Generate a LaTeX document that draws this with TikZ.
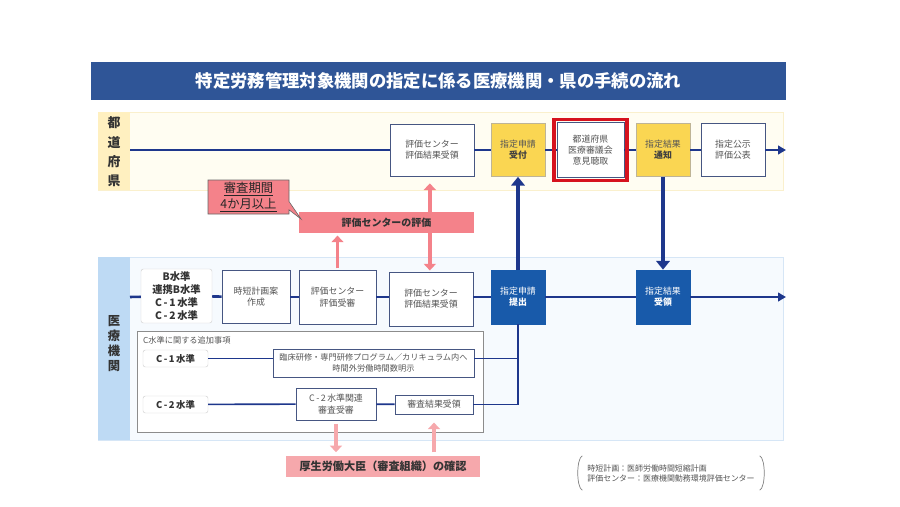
\documentclass[tikz,border=0pt]{standalone}
\usepackage{fontspec}
\setmainfont{Noto Sans CJK JP}
\usetikzlibrary{arrows.meta,positioning,calc,fit,shapes.callouts}
\definecolor{titleBlue}{RGB}{47, 85, 151}
\definecolor{flowBlue}{RGB}{30, 55, 140}
\definecolor{medBlue}{RGB}{24, 90, 170}
\definecolor{boxLine}{RGB}{70, 86, 130}
\definecolor{textGray}{RGB}{85, 85, 85}
\definecolor{prefYellow}{RGB}{250, 214, 82}
\definecolor{prefYellowLine}{RGB}{190, 180, 150}
\definecolor{prefBand}{RGB}{255, 253, 242}
\definecolor{prefBandLine}{RGB}{250, 240, 205}
\definecolor{prefLabel}{RGB}{255, 240, 192}
\definecolor{medBand}{RGB}{246, 250, 254}
\definecolor{medBandLine}{RGB}{214, 230, 246}
\definecolor{medLabel}{RGB}{190, 218, 244}
\definecolor{evalPink}{RGB}{244, 130, 138}
\definecolor{checkPink}{RGB}{246, 168, 172}
\definecolor{redFrame}{RGB}{214, 18, 30}

\begin{document}
\begin{tikzpicture}[
  x=0.03cm, y=-0.03cm,
  stepbox/.style={
    draw=boxLine,
    fill=white,
    line width=0.6pt,
    inner sep=0pt,
    align=center,
    text=textGray,
    font=\fontsize{7.6}{9.6}\selectfont
  },
  yellowbox/.style={stepbox,fill=prefYellow,draw=prefYellowLine},
  bluebox/.style={stepbox,fill=medBlue,draw=medBlue,text=white},
  levelbox/.style={
    draw=black!18,
    fill=white,
    rounded corners=2pt,
    inner sep=0pt,
    align=center,
    text=black!80,
    font=\bfseries\fontsize{8}{10}\selectfont
  },
  lanelabel/.style={
    align=center,
    text=black!80,
    font=\bfseries\fontsize{11}{16.5}\selectfont
  },
  flow/.style={draw=flowBlue,line width=2.2pt},
  flowarrow/.style={flow,-{Triangle[length=2.4mm,width=2.6mm]}},
  thinflow/.style={draw=flowBlue,line width=1.4pt},
  updown/.style={draw=flowBlue,line width=3.4pt,-{Triangle[length=2.6mm,width=4mm]}},
  evalarrow/.style={draw=evalPink,line width=3pt,-{Triangle[length=2mm,width=3.6mm]}},
  checkarrow/.style={draw=checkPink,line width=3pt,-{Triangle[length=2mm,width=3.6mm]}}
]
  \path[use as bounding box] (0,0) rectangle (900,507);

  % title
  \node[fill=titleBlue,minimum width=20.85cm,minimum height=1.14cm,text=white,
    font=\bfseries\fontsize{14.8}{16}\selectfont] (title) at (438.5,81)
    {特定労務管理対象機関の指定に係る医療機関・県の手続の流れ};

  % lanes
  \draw[fill=prefBand,draw=prefBandLine] (98,112) rectangle (783,190);
  \fill[prefLabel] (98,112) rectangle (130,190);
  \node[lanelabel] (prefName) at (114,152) {都\\道\\府\\県};
  \draw[fill=medBand,draw=medBandLine] (98,257) rectangle (783,440);
  \fill[medLabel] (98,257) rectangle (130,440);
  \node[lanelabel,font=\bfseries\fontsize{10.5}{12.8}\selectfont] (medName) at (114,344) {医\\療\\機\\関};

  % prefecture row
  \coordinate (prefStart) at (130,150);
  \coordinate (prefEnd) at (786,150);
  \node[stepbox,minimum width=2.52cm,minimum height=1.56cm] (evalGetP) at (432,150) {評価センター\\評価結果受領};
  \node[yellowbox,minimum width=1.62cm,minimum height=1.59cm] (accept) at (518,150) {指定申請\\\textbf{\color{black!75}受付}};
  \node[stepbox,minimum width=2.01cm,minimum height=1.65cm] (council) at (590.5,150) {都道府県\\医療審議会\\意見聴取};
  \node[yellowbox,minimum width=1.62cm,minimum height=1.59cm] (notify) at (663,150) {指定結果\\\textbf{\color{black!75}通知}};
  \node[stepbox,minimum width=1.92cm,minimum height=1.59cm] (publish) at (733,150) {指定公示\\評価公表};
  \draw[flow] (prefStart) -- (evalGetP);
  \draw[flow] (evalGetP) -- (accept);
  \draw[flow] (accept) -- (council);
  \draw[flow] (council) -- (notify);
  \draw[flow] (notify) -- (publish);
  \draw[flowarrow] (publish) -- (prefEnd);
  \node[draw=redFrame,line width=3pt,inner sep=2.4pt,fit=(council)] (councilFrame) {};

  % medical institution row
  \coordinate (medStart) at (130,297);
  \coordinate (medEnd) at (786,297);
  \node[levelbox,minimum width=2.13cm,minimum height=1.62cm,font=\bfseries\fontsize{8.8}{10.9}\selectfont] (levels) at (176.5,296)
    {B水準\\連携B水準\\C\,-\,1\,水準\\C\,-\,2\,水準};
  \node[stepbox,minimum width=2.04cm,minimum height=1.59cm] (plan) at (256,297) {時短計画案\\作成};
  \node[stepbox,minimum width=2.31cm,minimum height=1.62cm] (evalTake) at (337.5,297) {評価センター\\評価受審};
  \node[stepbox,minimum width=2.52cm,minimum height=1.62cm] (evalGetM) at (431,299) {評価センター\\評価結果受領};
  \node[bluebox,minimum width=1.62cm,minimum height=1.62cm] (submit) at (518,297) {指定申請\\\textbf{提出}};
  \node[bluebox,minimum width=1.62cm,minimum height=1.62cm] (receive) at (663,297) {指定結果\\\textbf{受領}};
  \draw[flow] (medStart) -- (levels);
  \draw[flow] (levels) -- (plan);
  \draw[flow] (plan) -- (evalTake);
  \draw[flow] (evalTake) -- (evalGetM.west |- evalTake);
  \draw[flow] (evalGetM.east |- submit) -- (submit);
  \draw[flow] (submit) -- (receive);
  \draw[flowarrow] (receive) -- (medEnd);

  % additional items for C levels
  \node[draw=black!45,fill=white,line width=0.6pt,minimum width=10.38cm,minimum height=3.03cm] (cBox) at (310,381.5) {};
  \node[anchor=west,inner sep=0pt,text=textGray,font=\fontsize{7}{8}\selectfont] (cTitle) at (143,340) {C水準に関する追加事項};
  \node[levelbox,minimum width=1.95cm,minimum height=0.51cm] (cOne) at (175.5,358.5) {C\,-\,1\,水準};
  \node[levelbox,minimum width=1.95cm,minimum height=0.51cm] (cTwo) at (175.5,404.5) {C\,-\,2\,水準};
  \node[stepbox,minimum width=6.03cm,minimum height=0.84cm,font=\fontsize{7}{9}\selectfont] (training) at (373.5,363)
    {臨床研修・専門研修プログラム／カリキュラム内へ\\時間外労働時間数明示};
  \node[stepbox,minimum width=2.4cm,minimum height=0.96cm] (cTwoReview) at (336,404) {C\,-\,2\,水準関連\\審査受審};
  \node[stepbox,minimum width=2.34cm,minimum height=0.57cm] (reviewGet) at (434,404.5) {審査結果受領};
  \draw[thinflow] (cOne) -- (cOne -| training.west);
  \draw[thinflow] (cTwo) -- (cTwoReview);
  \draw[thinflow] (cTwoReview) -- (reviewGet);
  \draw[thinflow] (training.east |- cOne) -- (submit.south |- cOne);
  \draw[thinflow] (reviewGet.east) -| (submit.south);

  % between prefecture and institution
  \draw[updown] (submit) -- (accept);
  \draw[updown] (notify) -- (receive);

  % evaluation centre
  \node[fill=evalPink,minimum width=5.25cm,minimum height=0.63cm,
    font=\bfseries\fontsize{8.5}{10}\selectfont,text=black!80] (evalCenter) at (386.5,222.5) {評価センターの評価};
  \node[rectangle callout,callout absolute pointer={(301,219)},fill=evalPink,draw=black!60,line width=0.5pt,
    minimum width=2.43cm,minimum height=1.02cm,inner sep=0pt,align=center,
    font=\fontsize{10.5}{13}\selectfont,text=black!85] (period) at (248.5,197)
    {\underline{審査期間}\\\underline{4か月以上}};
  \draw[evalarrow,shorten <=1pt,shorten >=2pt] (evalTake.north) -- (evalTake.north |- evalCenter.south);
  \draw[evalarrow,shorten >=6pt] ([xshift=1.3cm]evalCenter.north) -- ([xshift=1.3cm]evalCenter.north |- evalGetP.south);
  \draw[evalarrow,shorten >=1pt] ([xshift=1.3cm]evalCenter.south) -- ([xshift=1.3cm]evalCenter.south |- evalGetM.north);

  % ministry check
  \node[fill=checkPink,minimum width=5.82cm,minimum height=0.63cm,
    font=\bfseries\fontsize{9.5}{11}\selectfont,text=black!80] (ministry) at (383,466.5) {厚生労働大臣（審査組織）の確認};
  \draw[checkarrow,shorten <=3pt,shorten >=3pt] (cTwoReview.south) -- (cTwoReview.south |- ministry.north);
  \draw[checkarrow,shorten <=3pt,shorten >=7pt] (reviewGet.south |- ministry.north) -- (reviewGet.south);

  % note
  \node[minimum width=5.61cm,minimum height=1.02cm,align=left,text=textGray,
    font=\fontsize{6.8}{8.5}\selectfont] (note) at (671,473)
    {時短計画：医師労働時間短縮計画\\評価センター：医療機関勤務環境評価センター};
  \draw[black!50,line width=0.6pt] ($(note.north west)+(5,0)$) .. controls ($(note.north west)+(-1,3)$) and ($(note.south west)+(-1,-3)$) .. ($(note.south west)+(5,0)$);
  \draw[black!50,line width=0.6pt] ($(note.north east)+(-5,0)$) .. controls ($(note.north east)+(1,3)$) and ($(note.south east)+(1,-3)$) .. ($(note.south east)+(-5,0)$);
\end{tikzpicture}
\end{document}
